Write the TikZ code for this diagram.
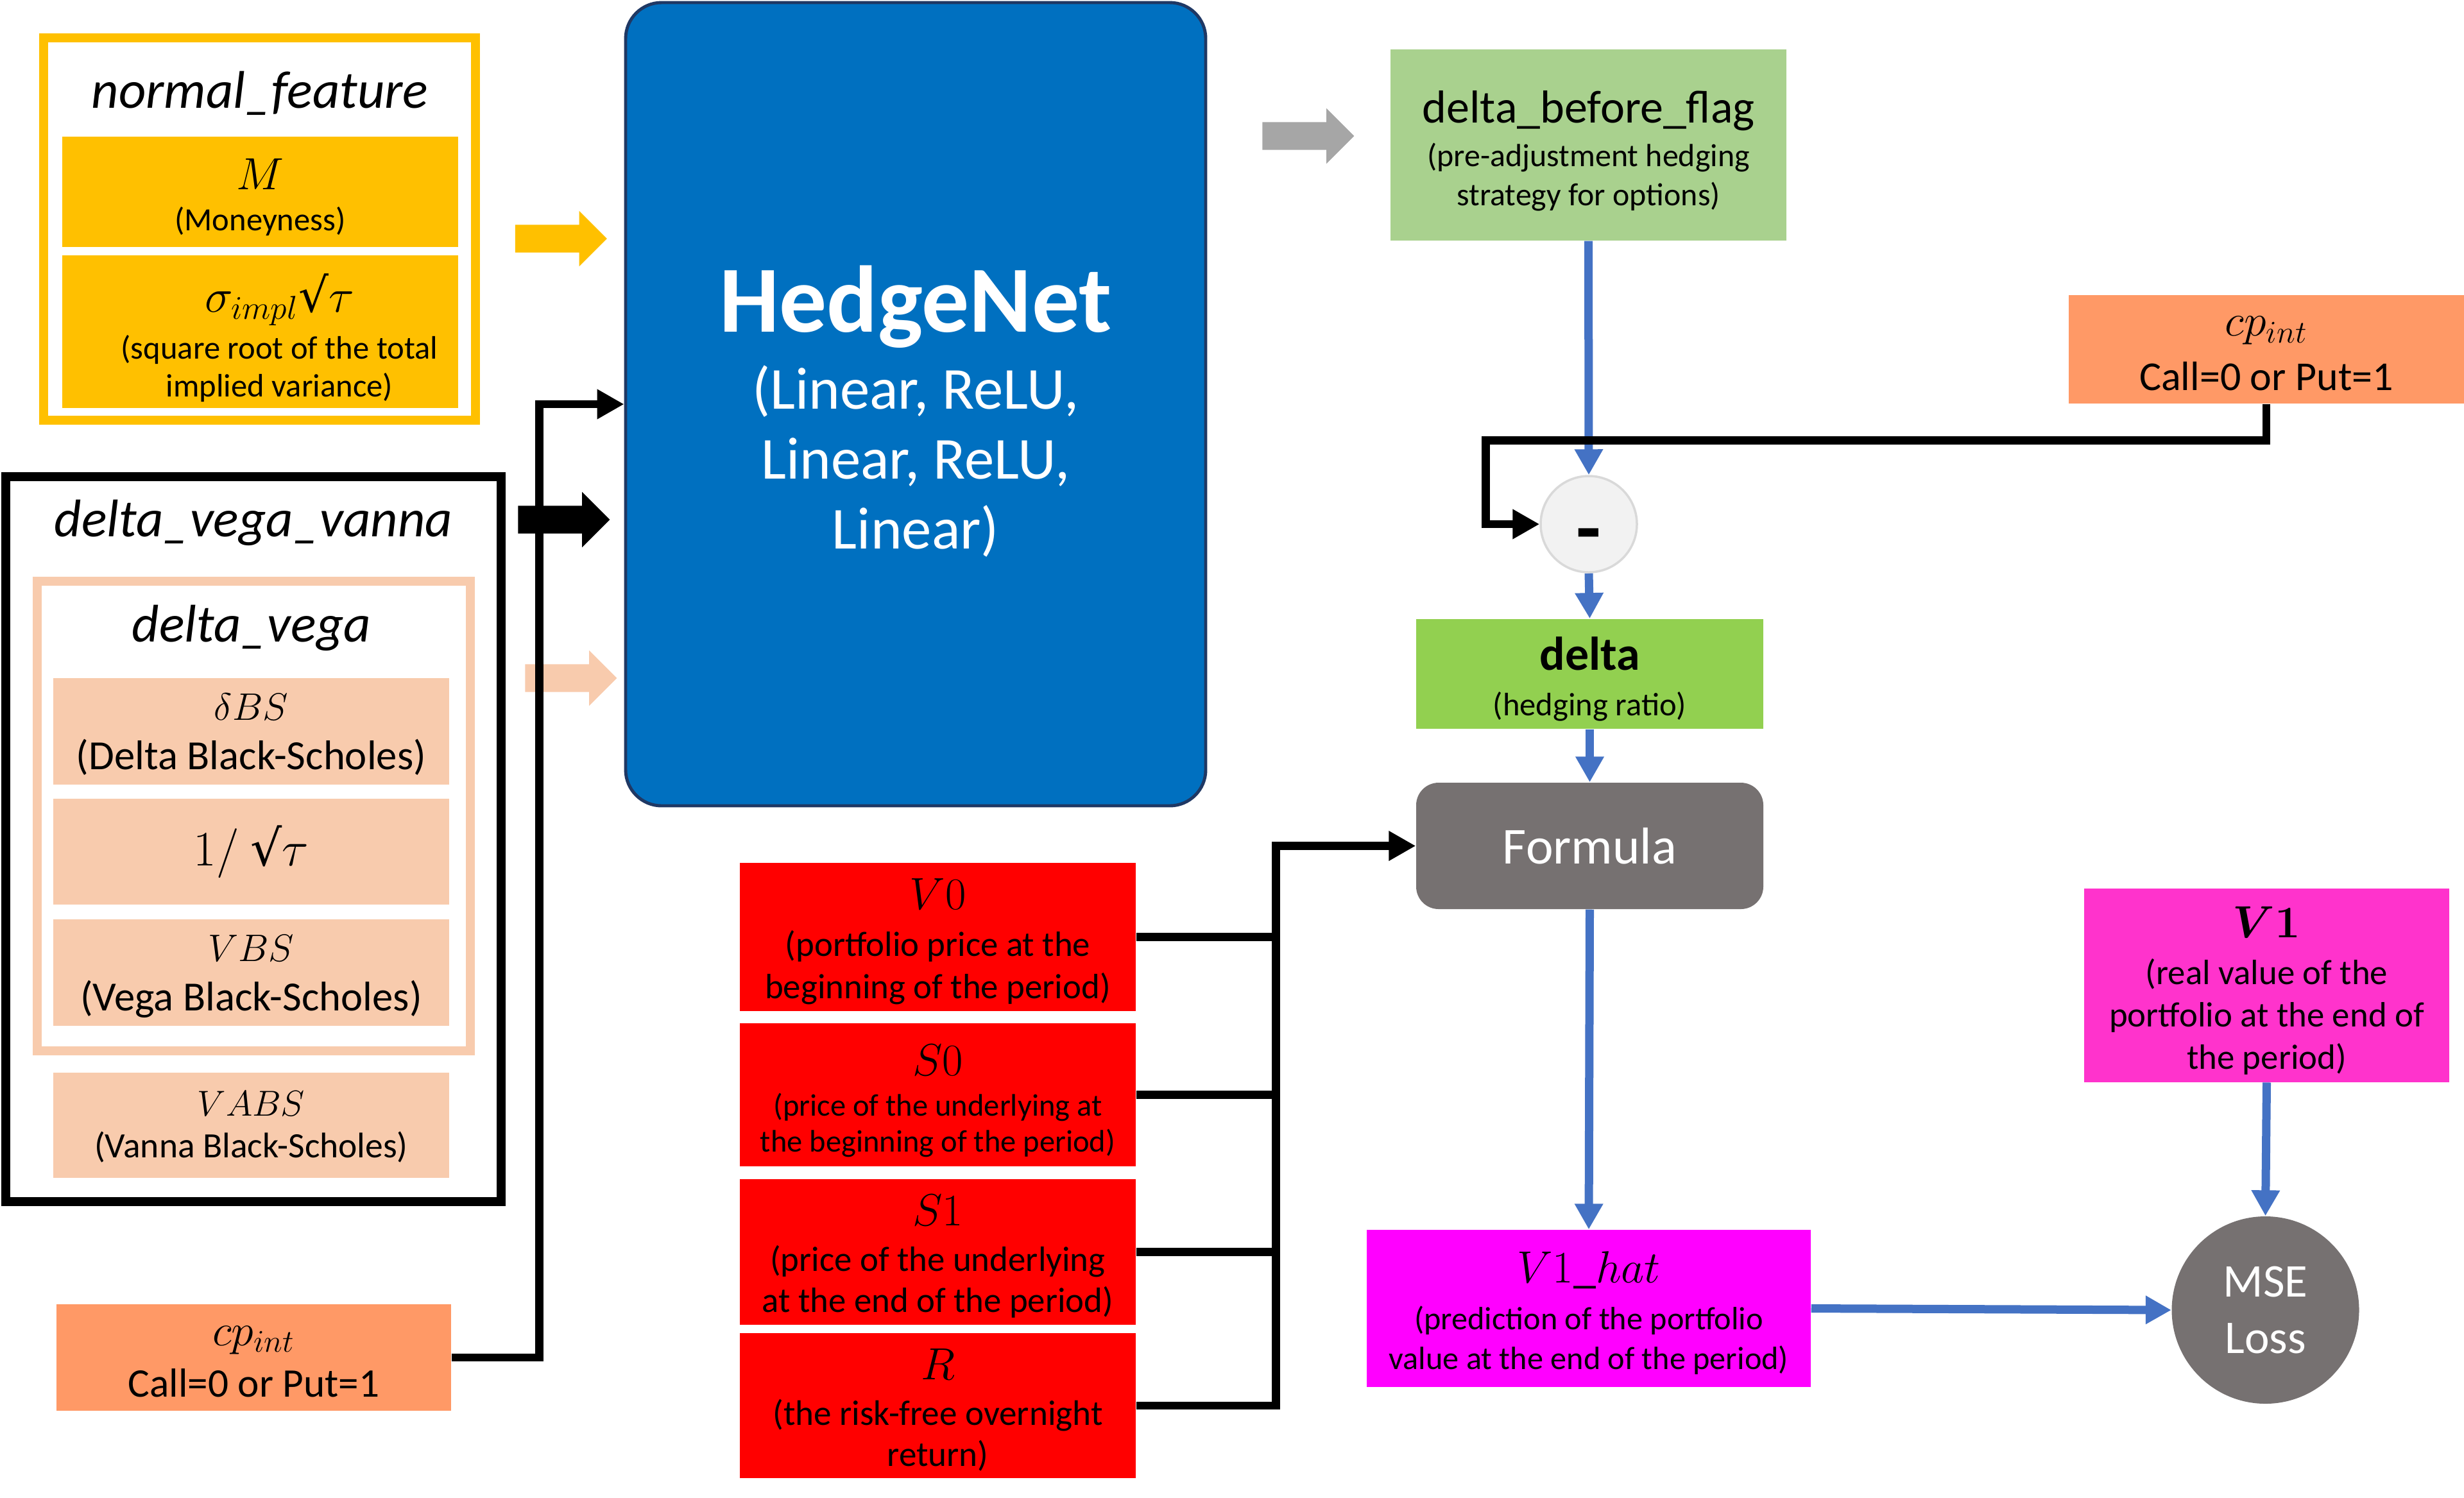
\documentclass[tikz,border=0pt]{standalone}
\usepackage{fix-cm}
\usepackage{fontspec}
\setmainfont{Carlito}
\newfontfamily\radicalfont{DejaVu Serif}
\usetikzlibrary{arrows.meta, shapes.arrows}

\definecolor{featyellow}{HTML}{FFC000}
\definecolor{greekpeach}{HTML}{F8CBAD}
\definecolor{netblue}{HTML}{0070C0}
\definecolor{netborder}{HTML}{1F3864}
\definecolor{flaggreen}{HTML}{A9D18E}
\definecolor{deltagreen}{HTML}{92D050}
\definecolor{cporange}{HTML}{FF9966}
\definecolor{lossgray}{HTML}{767171}
\definecolor{flowblue}{HTML}{4472C4}
\definecolor{outgray}{HTML}{A6A6A6}
\definecolor{realpink}{HTML}{FF33CC}
\definecolor{predpink}{HTML}{FF00FF}
\definecolor{minusfill}{HTML}{F2F2F2}
\definecolor{minusdraw}{HTML}{D9D9D9}

\newcommand{\fsz}[2]{\fontsize{#1}{#2}\selectfont}
\newcommand{\rootsign}{\mbox{\radicalfont √}}

\begin{document}
\begin{tikzpicture}[
		box/.style={inner sep=0pt, text=black},
		conn/.style={line width=0.125cm, -{Triangle[length=0.42cm, width=0.44cm]}},
		bus/.style={line width=0.125cm},
		flow/.style={line width=0.13cm, flowblue, -{Triangle[length=0.40cm, width=0.42cm]}},
		fatarrow/.style={single arrow, inner xsep=0pt, inner ysep=0.21cm, minimum height=1.43cm, single arrow head extend=0.215cm},
	]
	\useasboundingbox (0, 0) rectangle (38.4, -23.34);

	% input groups
	\node[draw=featyellow, line width=0.14cm, minimum width=6.73cm, minimum height=5.96cm] (normal) at (4.045, -3.57) {};
	\node[box] (normaltitle) at (4.05, -1.45) {\fsz{23.5}{27}\textit{normal\_feature}};
	\node[box, fill=featyellow, minimum width=6.17cm, minimum height=1.72cm, font=\fsz{14.4}{18}] (money) at (4.055, -2.99) {\begin{tabular}{@{}c@{}}\noalign{\vskip 8pt}\fsz{20}{20}$M$\\(Moneyness)\end{tabular}};
	\node[box, fill=featyellow, minimum width=6.17cm, minimum height=2.28cm, font=\fsz{14.4}{16.8}] (sigma) at (4.055, -5.17) {\begin{tabular}{@{\hspace{0.6cm}}c@{}}\noalign{\vskip 8pt}\fsz{21}{21}$\sigma_{impl}\rootsign\tau$\\[4pt](square root of the total\\implied variance)\end{tabular}};

	\node[draw=black, line width=0.14cm, minimum width=7.72cm, minimum height=11.30cm] (dvv) at (3.95, -13.08) {};
	\node[box] (dvvtitle) at (3.95, -8.15) {\fsz{23.5}{27}\textit{delta\_vega\_vanna}};
	\node[draw=greekpeach, line width=0.14cm, minimum width=6.75cm, minimum height=7.32cm] (dv) at (3.955, -12.72) {};
	\node[box] (dvtitle) at (3.92, -9.79) {\fsz{23.5}{27}\textit{delta\_vega}};
	\node[box, fill=greekpeach, minimum width=6.17cm, minimum height=1.66cm, font=\fsz{18.4}{22}] (dbs) at (3.915, -11.40) {\begin{tabular}{@{}c@{}}\noalign{\vskip 3pt}\fsz{17}{17}$\delta BS$\\(Delta Black-Scholes)\end{tabular}};
	\node[box, fill=greekpeach, minimum width=6.17cm, minimum height=1.65cm, font=\fsz{22}{22}] (invtau) at (3.915, -13.275) {$1/\ \rootsign\tau$};
	\node[box, fill=greekpeach, minimum width=6.17cm, minimum height=1.66cm, font=\fsz{18.4}{22}] (vbs) at (3.915, -15.16) {\begin{tabular}{@{}c@{}}\noalign{\vskip 3pt}\fsz{17}{17}$VBS$\\(Vega Black-Scholes)\end{tabular}};
	\node[box, fill=greekpeach, minimum width=6.17cm, minimum height=1.64cm, font=\fsz{15.8}{18.5}] (vabs) at (3.915, -17.54) {\begin{tabular}{@{}c@{}}\noalign{\vskip 3pt}\fsz{16}{16}$VABS$\\(Vanna Black-Scholes)\end{tabular}};

	\node[box, fill=cporange, minimum width=6.15cm, minimum height=1.66cm, font=\fsz{18}{18}] (cpleft) at (3.955, -21.16) {\begin{tabular}{@{}c@{}}\noalign{\vskip 5pt}\fsz{20}{20}$cp_{int}$\\[5pt]Call=0 or Put=1\end{tabular}};

	% network
	\node[box, fill=netblue, draw=netborder, line width=1.4pt, rounded corners=0.56cm, minimum width=9.04cm, minimum height=12.52cm, text=white, font=\fsz{26.4}{31}] (net) at (14.27, -6.30) {\begin{tabular}{@{}c@{}}\noalign{\vskip 12pt}\fsz{42}{42}\bfseries HedgeNet\\[3pt](Linear, ReLU,\\Linear, ReLU,\\Linear)\end{tabular}};

	\node[fatarrow, fill=featyellow] (inyellow) at (8.635, -3.72) {};
	\node[fatarrow, fill=black] (inblack) at (8.68, -8.10) {};
	\node[fatarrow, fill=greekpeach] (inpeach) at (8.79, -10.57) {};
	\node[fatarrow, fill=outgray] (outarrow) at (20.28, -2.12) {};

	% market data
	\node[box, fill=red, minimum width=6.17cm, minimum height=2.23cm, font=\fsz{15.6}{18.8}] (pv0) at (14.615, -14.605) {\begin{tabular}{@{}c@{}}\noalign{\vskip 7pt}\fsz{20}{20}$V0$\\[2pt](portfolio price at the\\beginning of the period)\end{tabular}};
	\node[box, fill=red, minimum width=6.17cm, minimum height=2.23cm, font=\fsz{13.8}{16}] (s0) at (14.615, -17.065) {\begin{tabular}{@{}c@{}}\noalign{\vskip 8pt}\fsz{20}{20}$S0$\\[2pt](price of the underlying at\\the beginning of the period)\end{tabular}};
	\node[box, fill=red, minimum width=6.17cm, minimum height=2.25cm, font=\fsz{15.6}{18.2}] (s1) at (14.615, -19.515) {\begin{tabular}{@{}c@{}}\noalign{\vskip 7pt}\fsz{20}{20}$S1$\\[2pt](price of the underlying\\at the end of the period)\end{tabular}};
	\node[box, fill=red, minimum width=6.17cm, minimum height=2.24cm, font=\fsz{15.7}{18.2}] (rfree) at (14.615, -21.91) {\begin{tabular}{@{}c@{}}\noalign{\vskip 7pt}\fsz{20}{20}$R$\\[2pt](the risk-free overnight\\return)\end{tabular}};

	% adjustment and loss
	\node[box, fill=flaggreen, minimum width=6.17cm, minimum height=2.98cm, font=\fsz{14.2}{17.4}] (flag) at (24.755, -2.26) {\begin{tabular}{@{}c@{}}\noalign{\vskip 8pt}\fsz{20.5}{20}delta\_before\_flag\\[2pt](pre-adjustment hedging\\strategy for options)\end{tabular}};
	\node[circle, fill=minusfill, draw=minusdraw, line width=1pt, minimum size=1.50cm, inner sep=0pt, font=\fsz{36}{36}\bfseries] (minus) at (24.76, -8.17) {\raisebox{-8pt}[\height][\depth]{-}};
	\node[box, fill=cporange, minimum width=6.16cm, minimum height=1.69cm, font=\fsz{18.2}{18}] (cpright) at (35.32, -5.445) {\begin{tabular}{@{}c@{}}\noalign{\vskip 5pt}\fsz{20}{20}$cp_{int}$\\[6pt]Call=0 or Put=1\end{tabular}};
	\node[box, fill=deltagreen, minimum width=5.41cm, minimum height=1.67cm, font=\fsz{14.4}{20}] (delta) at (24.775, -10.505) {\begin{tabular}{@{}c@{}}\noalign{\vskip 8pt}\fsz{21}{21}\bfseries delta\\(hedging ratio)\end{tabular}};
	\node[box, fill=lossgray, rounded corners=0.35cm, minimum width=5.41cm, minimum height=1.97cm, text=white, font=\fsz{23}{23}] (formula) at (24.775, -13.185) {Formula};
	\node[box, fill=predpink, minimum width=6.92cm, minimum height=2.45cm, font=\fsz{14.3}{17.6}] (v1hat) at (24.76, -20.395) {\begin{tabular}{@{}c@{}}\noalign{\vskip 7pt}\fsz{20}{20}$V1\_hat$\\[3pt](prediction of the portfolio\\value at the end of the period)\end{tabular}};
	\node[box, fill=realpink, minimum width=5.69cm, minimum height=2.92cm, font=\fsz{15.6}{18.8}] (v1) at (35.325, -15.36) {\begin{tabular}{@{}c@{}}\noalign{\vskip 8pt}\fsz{20}{20}\boldmath$V1$\\[2pt](real value of the\\portfolio at the end of\\the period)\end{tabular}};
	\node[circle, fill=lossgray, minimum size=2.92cm, inner sep=0pt, text=white, font=\fsz{20.8}{25}, align=center] (mse) at (35.305, -20.42) {MSE\\Loss};

	% connectors
	\draw[conn] (cpleft.east) -- ++(1.37, 0) |- (net.west);
	\draw[flow] (flag.south) -- (minus.north);
	\draw[conn] (cpright.south) -- ++(0, -0.57) -| ([xshift=-0.84cm]minus.west) -- (minus.west);
	\draw[flow] (minus.south) -- (delta.north);
	\draw[flow] (delta.south) -- (formula.north);
	\foreach \src in {pv0, s0, s1}
		\draw[bus] (\src.east) -- ++(2.24, 0);
	\draw[conn] (rfree.east) -- ++(2.18, 0) |- (formula.west);
	\draw[flow] (formula.south) -- (v1hat.north);
	\draw[flow] (v1.south) -- (mse.north);
	\draw[flow] (v1hat.east) -- (mse.west);
\end{tikzpicture}
\end{document}
